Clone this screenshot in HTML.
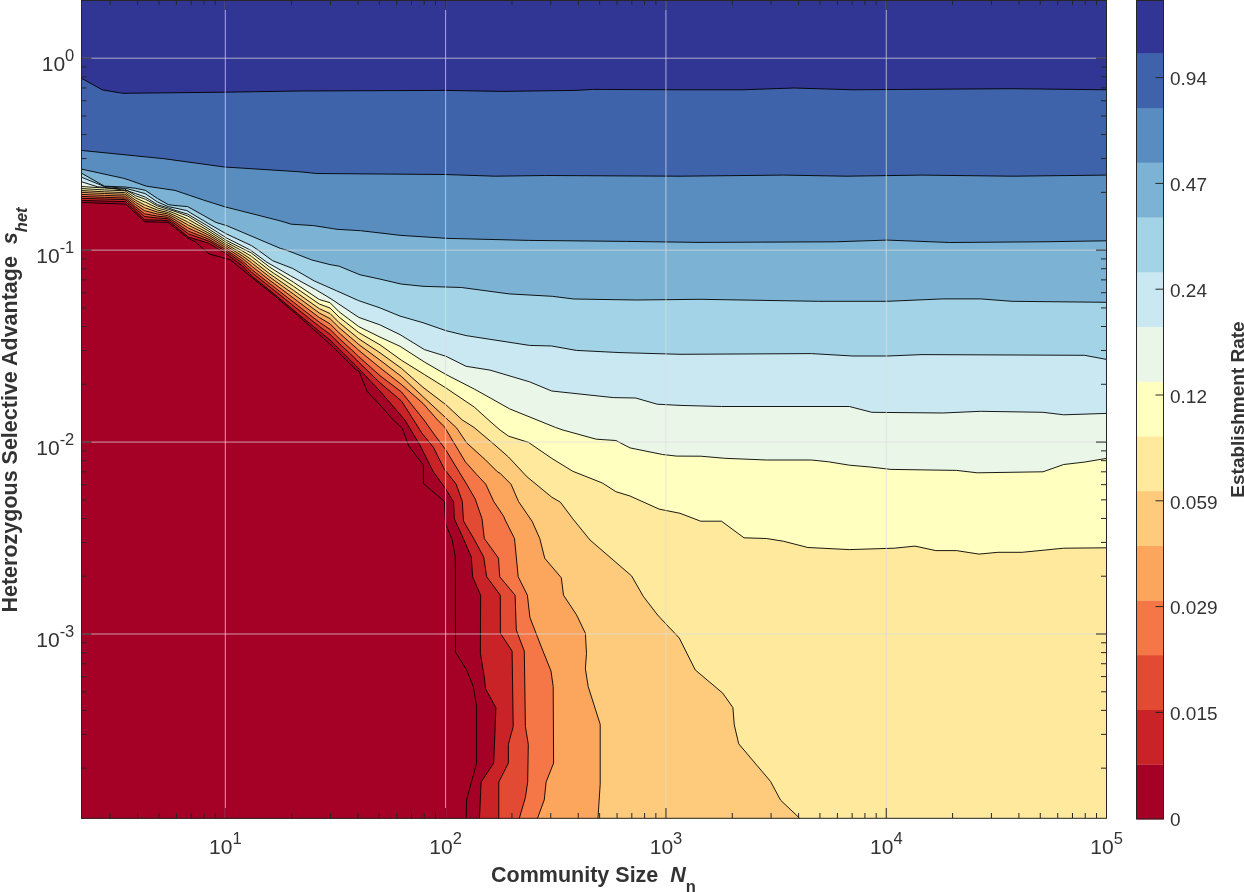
<!DOCTYPE html><html><head><meta charset="utf-8"><style>html,body{margin:0;padding:0;background:#fff;width:1244px;height:892px;overflow:hidden}svg{display:block}text{font-family:"Liberation Sans",sans-serif;fill:#333333}svg{will-change:transform}</style></head><body>
<svg width="1244" height="892" viewBox="0 0 1244 892">
<defs><clipPath id="pc"><rect x="81" y="0" width="1025.8" height="818.5"/></clipPath></defs>
<g clip-path="url(#pc)">
<rect x="81" y="0" width="1025" height="819" fill="#313695"/>
<path d="M81.0,78.0 L102.3,89.9 L122.5,93.3 L224.5,92.2 L300.0,91.0 L444.7,90.4 L501.8,91.4 L575.9,90.4 L592.7,89.4 L680.0,89.8 L742.0,89.8 L794.0,88.0 L852.8,89.8 L1011.8,88.7 L1107.0,89.8 L1110.0,89.8 L1110.0,822.0 L78.0,822.0 L78.0,78.0 Z" fill="#3f63ab"/>
<path d="M81.0,150.4 L164.0,158.7 L224.5,167.0 L300.0,171.8 L316.8,173.5 L444.7,174.5 L495.1,176.2 L545.6,175.5 L680.0,176.2 L783.7,175.1 L846.0,176.2 L922.0,175.1 L1011.8,176.2 L1107.0,175.1 L1110.0,175.1 L1110.0,822.0 L78.0,822.0 L78.0,150.4 Z" fill="#598dc0"/>
<path d="M81.0,169.0 L123.6,178.3 L129.0,180.0 L146.4,186.2 L175.0,190.4 L203.3,200.0 L224.8,206.8 L280.0,220.8 L291.2,224.2 L313.5,225.6 L337.0,229.3 L360.6,230.7 L400.9,235.4 L448.0,238.4 L528.8,240.4 L626.3,241.4 L700.0,242.4 L835.5,241.8 L887.4,240.1 L949.6,242.5 L1043.0,241.8 L1107.0,240.8 L1110.0,240.8 L1110.0,822.0 L78.0,822.0 L78.0,169.0 Z" fill="#7cb3d4"/>
<path d="M81.0,172.9 L104.4,186.2 L125.1,187.0 L135.7,188.3 L145.3,190.3 L157.5,198.5 L168.5,204.7 L175.0,205.5 L187.7,206.6 L215.9,222.4 L226.6,225.6 L280.4,248.4 L286.0,250.0 L311.9,260.0 L330.0,264.6 L339.1,266.2 L360.0,274.8 L380.0,279.1 L400.9,284.0 L423.0,286.3 L461.5,287.5 L509.2,293.9 L552.3,296.3 L573.8,299.0 L636.4,300.0 L700.0,299.3 L818.3,301.3 L887.4,301.3 L942.7,298.9 L980.7,298.9 L1011.8,301.3 L1107.0,302.3 L1110.0,302.3 L1110.0,822.0 L78.0,822.0 L78.0,172.9 Z" fill="#a3d3e6"/>
<path d="M81.0,177.0 L104.4,186.5 L126.2,188.4 L135.7,191.0 L145.3,193.7 L157.5,202.0 L168.5,206.7 L175.0,208.0 L186.8,210.6 L208.9,223.9 L226.6,234.0 L251.3,245.5 L258.0,250.0 L272.6,260.7 L292.8,268.5 L314.4,281.0 L336.6,290.8 L358.8,300.7 L380.0,307.9 L400.0,316.1 L423.0,322.7 L446.0,330.7 L466.1,335.6 L490.0,339.3 L529.5,345.4 L551.7,346.0 L576.3,350.4 L620.0,352.6 L680.0,354.3 L811.4,353.6 L852.8,356.0 L887.4,356.0 L922.0,354.6 L1084.4,355.3 L1107.0,359.5 L1110.0,359.5 L1110.0,822.0 L78.0,822.0 L78.0,177.0 Z" fill="#c9e8f2"/>
<path d="M81.0,181.6 L97.6,186.8 L104.4,187.4 L127.3,190.7 L135.7,193.7 L145.3,197.1 L157.5,204.7 L168.5,208.0 L175.0,210.3 L187.7,214.1 L207.1,225.6 L226.6,238.0 L250.2,250.0 L267.0,262.3 L290.5,275.8 L315.6,289.6 L330.0,298.2 L358.8,317.4 L379.8,324.8 L400.0,334.6 L424.4,349.6 L446.0,356.3 L466.1,366.3 L490.0,370.1 L529.5,381.8 L551.7,391.0 L613.3,397.6 L635.7,398.0 L657.2,404.2 L680.0,405.4 L721.5,406.5 L849.4,406.5 L871.8,412.3 L942.7,413.0 L980.7,411.3 L1043.0,412.3 L1063.7,414.8 L1107.0,413.4 L1110.0,413.4 L1110.0,822.0 L78.0,822.0 L78.0,181.6 Z" fill="#e9f6e8"/>
<path d="M81.0,186.5 L104.4,188.0 L124.7,189.0 L135.7,195.8 L145.3,199.2 L157.5,206.0 L168.5,209.4 L175.0,211.4 L187.7,216.0 L207.1,228.0 L226.6,240.5 L251.3,253.0 L270.0,267.4 L293.4,282.2 L319.3,299.5 L330.0,302.7 L339.1,311.8 L358.8,326.6 L380.0,337.1 L400.0,346.3 L424.4,362.0 L446.0,374.5 L474.2,389.0 L490.0,397.8 L509.7,408.9 L555.4,427.4 L562.9,430.0 L596.2,439.2 L615.9,440.5 L630.0,447.9 L662.6,454.5 L676.5,456.1 L700.7,456.2 L724.9,458.3 L766.4,460.0 L811.4,460.0 L828.6,461.8 L849.4,465.2 L870.1,467.0 L890.9,469.4 L956.5,470.4 L977.3,472.8 L1043.0,471.8 L1063.7,464.5 L1084.4,462.1 L1107.0,458.3 L1110.0,458.3 L1110.0,822.0 L78.0,822.0 L78.0,186.5 Z" fill="#ffffbf"/>
<path d="M81.0,188.5 L104.4,189.9 L124.7,190.8 L125.5,191.2 L135.7,198.0 L144.7,202.0 L145.3,202.1 L157.5,208.0 L167.2,210.6 L168.5,211.1 L170.0,211.6 L175.0,213.5 L187.7,218.9 L188.6,219.5 L207.1,230.1 L208.9,231.2 L226.6,242.4 L242.5,251.0 L251.3,256.2 L252.4,257.1 L270.0,270.7 L274.8,273.9 L293.4,286.2 L297.3,288.9 L319.3,304.0 L330.0,308.0 L339.1,317.1 L356.3,330.6 L358.8,332.6 L380.0,344.8 L401.5,360.3 L424.4,374.5 L446.0,388.0 L474.2,407.0 L490.0,421.3 L500.0,430.0 L508.6,436.2 L528.4,442.3 L551.8,458.4 L572.8,471.3 L602.4,483.0 L615.9,491.7 L630.0,496.0 L659.1,509.1 L680.0,513.3 L700.7,521.2 L721.5,521.2 L744.0,537.8 L766.4,538.5 L783.7,541.3 L807.9,547.5 L849.4,549.6 L894.3,548.2 L915.0,546.1 L935.8,550.6 L956.5,550.6 L979.0,554.1 L998.0,552.3 L1022.2,552.3 L1063.7,548.2 L1107.0,547.8 L1110.0,547.8 L1110.0,822.0 L78.0,822.0 L78.0,188.5 Z" fill="#fee99d"/>
<path d="M81.0,190.5 L104.4,191.8 L124.7,192.6 L125.5,193.0 L135.7,200.3 L144.7,205.0 L145.3,205.2 L157.5,210.1 L167.2,212.3 L168.5,212.8 L170.0,213.4 L175.0,215.7 L187.7,221.9 L188.6,222.5 L207.1,232.3 L208.9,233.3 L226.6,244.4 L242.5,253.6 L251.3,259.5 L252.4,260.4 L270.0,274.1 L274.8,277.4 L293.4,290.3 L297.3,293.1 L319.3,308.7 L330.0,313.5 L339.1,322.6 L356.3,336.7 L358.8,338.8 L380.0,352.8 L401.5,368.4 L423.0,387.3 L446.0,404.8 L462.3,420.0 L474.0,427.4 L493.7,444.0 L508.5,457.0 L527.1,476.9 L551.8,497.2 L560.4,502.2 L572.8,518.8 L590.0,540.0 L631.6,575.9 L643.2,596.2 L657.6,615.0 L679.3,638.1 L695.3,670.0 L722.7,693.1 L732.9,707.6 L734.3,725.0 L738.7,743.8 L770.5,781.4 L780.6,800.2 L799.4,818.0 L799.4,822.0 L78.0,822.0 L78.0,190.5 Z" fill="#fecb7c"/>
<path d="M81.0,192.4 L104.4,193.5 L124.7,194.3 L125.5,194.6 L135.7,202.4 L144.7,207.8 L145.3,208.0 L157.5,212.0 L167.2,213.8 L168.5,214.4 L170.0,215.1 L175.0,217.7 L187.7,224.7 L188.6,225.3 L207.1,234.3 L208.9,235.2 L226.6,246.2 L242.5,256.0 L251.3,262.5 L252.4,263.5 L270.0,277.3 L274.8,280.7 L293.4,294.0 L297.3,296.9 L319.3,313.0 L330.0,318.6 L339.1,327.6 L356.3,342.3 L358.8,344.5 L380.0,360.1 L401.5,376.5 L423.0,396.7 L448.1,420.0 L456.7,428.0 L466.6,442.8 L485.1,459.5 L497.4,471.8 L500.0,473.2 L511.1,484.3 L518.5,501.5 L532.1,521.3 L539.8,538.5 L544.7,558.2 L561.3,577.8 L563.5,595.2 L576.5,614.8 L585.4,633.3 L586.5,653.3 L585.4,668.8 L588.2,686.6 L600.2,724.3 L600.2,784.2 L598.0,818.0 L598.0,822.0 L78.0,822.0 L78.0,192.4 Z" fill="#fca55d"/>
<path d="M81.0,194.4 L104.4,195.4 L124.7,196.1 L125.5,196.4 L135.7,204.6 L144.7,210.8 L145.3,210.9 L157.5,214.0 L167.2,215.5 L168.5,216.1 L170.0,216.8 L175.0,219.8 L187.7,227.6 L188.6,228.2 L207.1,236.4 L208.9,237.2 L226.6,248.1 L242.5,258.4 L251.3,265.7 L252.4,266.7 L270.0,280.6 L274.8,284.1 L293.4,298.0 L297.3,301.0 L319.3,317.5 L330.0,323.8 L339.1,332.9 L356.3,348.1 L358.8,350.4 L380.0,367.7 L401.5,384.6 L423.0,403.4 L437.6,420.0 L444.4,426.8 L454.3,443.4 L465.4,461.9 L476.5,474.3 L485.7,484.1 L493.7,501.4 L503.6,516.2 L505.2,520.0 L514.5,538.5 L518.2,576.7 L527.4,595.2 L529.9,617.4 L542.1,648.9 L551.0,671.0 L553.2,686.6 L553.6,763.1 L546.1,782.0 L544.3,799.8 L537.6,818.0 L537.6,822.0 L78.0,822.0 L78.0,194.4 Z" fill="#f57647"/>
<path d="M81.0,196.4 L104.4,197.3 L124.7,198.0 L125.5,198.1 L135.7,206.9 L144.7,213.9 L145.3,213.9 L157.5,216.1 L167.2,217.2 L168.5,217.8 L170.0,218.6 L175.0,221.9 L187.7,230.6 L188.6,231.2 L207.1,238.5 L208.9,239.3 L226.6,250.1 L242.5,261.0 L251.3,269.0 L252.4,270.0 L270.0,284.0 L274.8,287.6 L293.4,302.1 L297.3,305.2 L319.3,322.2 L330.0,329.4 L339.1,338.4 L356.3,354.2 L358.8,356.7 L380.0,375.7 L401.5,392.0 L424.0,420.0 L434.5,434.8 L445.6,449.6 L456.1,466.9 L466.6,484.1 L475.2,498.9 L482.0,518.7 L484.3,538.5 L498.5,558.2 L499.7,576.7 L515.1,595.2 L516.3,630.0 L524.3,651.1 L525.4,726.5 L528.3,744.3 L527.7,782.0 L525.4,797.5 L519.4,818.0 L519.4,822.0 L78.0,822.0 L78.0,196.4 Z" fill="#e34a33"/>
<path d="M81.0,198.3 L104.4,199.0 L124.7,199.6 L125.5,199.7 L135.7,208.9 L144.7,216.6 L145.3,216.6 L157.5,218.0 L167.2,218.6 L168.5,219.4 L170.0,220.2 L175.0,223.9 L187.7,233.2 L188.6,233.9 L207.1,240.5 L208.9,241.1 L226.6,251.8 L242.5,263.3 L251.3,271.9 L252.4,273.0 L270.0,287.1 L274.8,290.8 L293.4,305.8 L297.3,308.9 L319.3,326.4 L330.0,334.3 L339.1,343.3 L356.3,359.6 L358.8,362.2 L380.0,382.8 L401.5,401.0 L413.6,420.0 L422.2,433.6 L433.3,447.1 L444.4,469.3 L456.1,484.1 L462.3,501.4 L463.5,521.1 L474.4,539.7 L483.7,557.0 L486.7,576.7 L500.3,595.2 L500.4,633.3 L512.1,651.1 L513.2,726.5 L508.4,744.3 L508.4,763.1 L498.8,782.0 L498.8,818.0 L498.8,822.0 L78.0,822.0 L78.0,198.3 Z" fill="#c92227"/>
<path d="M81.0,200.4 L125.5,201.6 L144.7,219.8 L167.2,220.4 L170.0,222.1 L188.6,237.1 L208.9,243.3 L226.6,253.9 L242.5,266.0 L252.4,276.5 L274.8,294.5 L297.3,313.3 L330.0,340.0 L356.3,366.0 L380.0,391.1 L404.9,420.0 L419.7,444.7 L433.3,471.8 L445.0,487.8 L453.6,502.0 L454.3,518.7 L463.3,538.5 L471.3,557.0 L472.6,576.7 L480.6,595.2 L480.4,653.3 L484.4,677.7 L485.5,688.8 L495.9,707.7 L493.7,763.1 L481.1,782.0 L479.5,818.0 L479.5,822.0 L78.0,822.0 L78.0,200.4 Z" fill="#a50026"/>
<path d="M78.0,202.5 L81.0,202.5 L125.7,204.1 L144.7,221.8 L167.2,222.3 L170.0,223.9 L187.7,238.0 L195.6,242.0 L208.9,253.9 L226.6,258.8 L230.0,259.5 L252.4,278.0 L274.8,296.0 L297.3,315.0 L330.0,344.2 L356.3,370.0 L359.0,371.2 L367.1,391.3 L380.0,405.0 L393.4,420.0 L402.5,428.6 L408.6,445.9 L423.4,465.0 L423.4,483.5 L444.4,501.4 L445.4,520.0 L446.0,524.9 L452.2,539.7 L455.3,557.0 L455.5,652.2 L466.6,669.9 L473.3,686.6 L476.6,706.6 L476.6,763.1 L466.6,799.8 L466.2,818.0 L466.2,822.0" fill="none" stroke="#000" stroke-width="0.9" stroke-linejoin="round"/>
<path d="M78.0,200.4 L81.0,200.4 L125.5,201.6 L144.7,219.8 L167.2,220.4 L170.0,222.1 L188.6,237.1 L208.9,243.3 L226.6,253.9 L242.5,266.0 L252.4,276.5 L274.8,294.5 L297.3,313.3 L330.0,340.0 L356.3,366.0 L380.0,391.1 L404.9,420.0 L419.7,444.7 L433.3,471.8 L445.0,487.8 L453.6,502.0 L454.3,518.7 L463.3,538.5 L471.3,557.0 L472.6,576.7 L480.6,595.2 L480.4,653.3 L484.4,677.7 L485.5,688.8 L495.9,707.7 L493.7,763.1 L481.1,782.0 L479.5,818.0 L479.5,822.0" fill="none" stroke="#000" stroke-width="0.9" stroke-linejoin="round"/>
<path d="M78.0,198.3 L81.0,198.3 L104.4,199.0 L124.7,199.6 L125.5,199.7 L135.7,208.9 L144.7,216.6 L145.3,216.6 L157.5,218.0 L167.2,218.6 L168.5,219.4 L170.0,220.2 L175.0,223.9 L187.7,233.2 L188.6,233.9 L207.1,240.5 L208.9,241.1 L226.6,251.8 L242.5,263.3 L251.3,271.9 L252.4,273.0 L270.0,287.1 L274.8,290.8 L293.4,305.8 L297.3,308.9 L319.3,326.4 L330.0,334.3 L339.1,343.3 L356.3,359.6 L358.8,362.2 L380.0,382.8 L401.5,401.0 L413.6,420.0 L422.2,433.6 L433.3,447.1 L444.4,469.3 L456.1,484.1 L462.3,501.4 L463.5,521.1 L474.4,539.7 L483.7,557.0 L486.7,576.7 L500.3,595.2 L500.4,633.3 L512.1,651.1 L513.2,726.5 L508.4,744.3 L508.4,763.1 L498.8,782.0 L498.8,818.0 L498.8,822.0" fill="none" stroke="#000" stroke-width="0.9" stroke-linejoin="round"/>
<path d="M78.0,196.4 L81.0,196.4 L104.4,197.3 L124.7,198.0 L125.5,198.1 L135.7,206.9 L144.7,213.9 L145.3,213.9 L157.5,216.1 L167.2,217.2 L168.5,217.8 L170.0,218.6 L175.0,221.9 L187.7,230.6 L188.6,231.2 L207.1,238.5 L208.9,239.3 L226.6,250.1 L242.5,261.0 L251.3,269.0 L252.4,270.0 L270.0,284.0 L274.8,287.6 L293.4,302.1 L297.3,305.2 L319.3,322.2 L330.0,329.4 L339.1,338.4 L356.3,354.2 L358.8,356.7 L380.0,375.7 L401.5,392.0 L424.0,420.0 L434.5,434.8 L445.6,449.6 L456.1,466.9 L466.6,484.1 L475.2,498.9 L482.0,518.7 L484.3,538.5 L498.5,558.2 L499.7,576.7 L515.1,595.2 L516.3,630.0 L524.3,651.1 L525.4,726.5 L528.3,744.3 L527.7,782.0 L525.4,797.5 L519.4,818.0 L519.4,822.0" fill="none" stroke="#000" stroke-width="0.9" stroke-linejoin="round"/>
<path d="M78.0,194.4 L81.0,194.4 L104.4,195.4 L124.7,196.1 L125.5,196.4 L135.7,204.6 L144.7,210.8 L145.3,210.9 L157.5,214.0 L167.2,215.5 L168.5,216.1 L170.0,216.8 L175.0,219.8 L187.7,227.6 L188.6,228.2 L207.1,236.4 L208.9,237.2 L226.6,248.1 L242.5,258.4 L251.3,265.7 L252.4,266.7 L270.0,280.6 L274.8,284.1 L293.4,298.0 L297.3,301.0 L319.3,317.5 L330.0,323.8 L339.1,332.9 L356.3,348.1 L358.8,350.4 L380.0,367.7 L401.5,384.6 L423.0,403.4 L437.6,420.0 L444.4,426.8 L454.3,443.4 L465.4,461.9 L476.5,474.3 L485.7,484.1 L493.7,501.4 L503.6,516.2 L505.2,520.0 L514.5,538.5 L518.2,576.7 L527.4,595.2 L529.9,617.4 L542.1,648.9 L551.0,671.0 L553.2,686.6 L553.6,763.1 L546.1,782.0 L544.3,799.8 L537.6,818.0 L537.6,822.0" fill="none" stroke="#000" stroke-width="0.9" stroke-linejoin="round"/>
<path d="M78.0,192.4 L81.0,192.4 L104.4,193.5 L124.7,194.3 L125.5,194.6 L135.7,202.4 L144.7,207.8 L145.3,208.0 L157.5,212.0 L167.2,213.8 L168.5,214.4 L170.0,215.1 L175.0,217.7 L187.7,224.7 L188.6,225.3 L207.1,234.3 L208.9,235.2 L226.6,246.2 L242.5,256.0 L251.3,262.5 L252.4,263.5 L270.0,277.3 L274.8,280.7 L293.4,294.0 L297.3,296.9 L319.3,313.0 L330.0,318.6 L339.1,327.6 L356.3,342.3 L358.8,344.5 L380.0,360.1 L401.5,376.5 L423.0,396.7 L448.1,420.0 L456.7,428.0 L466.6,442.8 L485.1,459.5 L497.4,471.8 L500.0,473.2 L511.1,484.3 L518.5,501.5 L532.1,521.3 L539.8,538.5 L544.7,558.2 L561.3,577.8 L563.5,595.2 L576.5,614.8 L585.4,633.3 L586.5,653.3 L585.4,668.8 L588.2,686.6 L600.2,724.3 L600.2,784.2 L598.0,818.0 L598.0,822.0" fill="none" stroke="#000" stroke-width="0.9" stroke-linejoin="round"/>
<path d="M78.0,190.5 L81.0,190.5 L104.4,191.8 L124.7,192.6 L125.5,193.0 L135.7,200.3 L144.7,205.0 L145.3,205.2 L157.5,210.1 L167.2,212.3 L168.5,212.8 L170.0,213.4 L175.0,215.7 L187.7,221.9 L188.6,222.5 L207.1,232.3 L208.9,233.3 L226.6,244.4 L242.5,253.6 L251.3,259.5 L252.4,260.4 L270.0,274.1 L274.8,277.4 L293.4,290.3 L297.3,293.1 L319.3,308.7 L330.0,313.5 L339.1,322.6 L356.3,336.7 L358.8,338.8 L380.0,352.8 L401.5,368.4 L423.0,387.3 L446.0,404.8 L462.3,420.0 L474.0,427.4 L493.7,444.0 L508.5,457.0 L527.1,476.9 L551.8,497.2 L560.4,502.2 L572.8,518.8 L590.0,540.0 L631.6,575.9 L643.2,596.2 L657.6,615.0 L679.3,638.1 L695.3,670.0 L722.7,693.1 L732.9,707.6 L734.3,725.0 L738.7,743.8 L770.5,781.4 L780.6,800.2 L799.4,818.0 L799.4,822.0" fill="none" stroke="#000" stroke-width="0.9" stroke-linejoin="round"/>
<path d="M78.0,188.5 L81.0,188.5 L104.4,189.9 L124.7,190.8 L125.5,191.2 L135.7,198.0 L144.7,202.0 L145.3,202.1 L157.5,208.0 L167.2,210.6 L168.5,211.1 L170.0,211.6 L175.0,213.5 L187.7,218.9 L188.6,219.5 L207.1,230.1 L208.9,231.2 L226.6,242.4 L242.5,251.0 L251.3,256.2 L252.4,257.1 L270.0,270.7 L274.8,273.9 L293.4,286.2 L297.3,288.9 L319.3,304.0 L330.0,308.0 L339.1,317.1 L356.3,330.6 L358.8,332.6 L380.0,344.8 L401.5,360.3 L424.4,374.5 L446.0,388.0 L474.2,407.0 L490.0,421.3 L500.0,430.0 L508.6,436.2 L528.4,442.3 L551.8,458.4 L572.8,471.3 L602.4,483.0 L615.9,491.7 L630.0,496.0 L659.1,509.1 L680.0,513.3 L700.7,521.2 L721.5,521.2 L744.0,537.8 L766.4,538.5 L783.7,541.3 L807.9,547.5 L849.4,549.6 L894.3,548.2 L915.0,546.1 L935.8,550.6 L956.5,550.6 L979.0,554.1 L998.0,552.3 L1022.2,552.3 L1063.7,548.2 L1107.0,547.8 L1110.0,547.8" fill="none" stroke="#000" stroke-width="0.9" stroke-linejoin="round"/>
<path d="M78.0,186.5 L81.0,186.5 L104.4,188.0 L124.7,189.0 L135.7,195.8 L145.3,199.2 L157.5,206.0 L168.5,209.4 L175.0,211.4 L187.7,216.0 L207.1,228.0 L226.6,240.5 L251.3,253.0 L270.0,267.4 L293.4,282.2 L319.3,299.5 L330.0,302.7 L339.1,311.8 L358.8,326.6 L380.0,337.1 L400.0,346.3 L424.4,362.0 L446.0,374.5 L474.2,389.0 L490.0,397.8 L509.7,408.9 L555.4,427.4 L562.9,430.0 L596.2,439.2 L615.9,440.5 L630.0,447.9 L662.6,454.5 L676.5,456.1 L700.7,456.2 L724.9,458.3 L766.4,460.0 L811.4,460.0 L828.6,461.8 L849.4,465.2 L870.1,467.0 L890.9,469.4 L956.5,470.4 L977.3,472.8 L1043.0,471.8 L1063.7,464.5 L1084.4,462.1 L1107.0,458.3 L1110.0,458.3" fill="none" stroke="#000" stroke-width="0.9" stroke-linejoin="round"/>
<path d="M78.0,181.6 L81.0,181.6 L97.6,186.8 L104.4,187.4 L127.3,190.7 L135.7,193.7 L145.3,197.1 L157.5,204.7 L168.5,208.0 L175.0,210.3 L187.7,214.1 L207.1,225.6 L226.6,238.0 L250.2,250.0 L267.0,262.3 L290.5,275.8 L315.6,289.6 L330.0,298.2 L358.8,317.4 L379.8,324.8 L400.0,334.6 L424.4,349.6 L446.0,356.3 L466.1,366.3 L490.0,370.1 L529.5,381.8 L551.7,391.0 L613.3,397.6 L635.7,398.0 L657.2,404.2 L680.0,405.4 L721.5,406.5 L849.4,406.5 L871.8,412.3 L942.7,413.0 L980.7,411.3 L1043.0,412.3 L1063.7,414.8 L1107.0,413.4 L1110.0,413.4" fill="none" stroke="#000" stroke-width="0.9" stroke-linejoin="round"/>
<path d="M78.0,177.0 L81.0,177.0 L104.4,186.5 L126.2,188.4 L135.7,191.0 L145.3,193.7 L157.5,202.0 L168.5,206.7 L175.0,208.0 L186.8,210.6 L208.9,223.9 L226.6,234.0 L251.3,245.5 L258.0,250.0 L272.6,260.7 L292.8,268.5 L314.4,281.0 L336.6,290.8 L358.8,300.7 L380.0,307.9 L400.0,316.1 L423.0,322.7 L446.0,330.7 L466.1,335.6 L490.0,339.3 L529.5,345.4 L551.7,346.0 L576.3,350.4 L620.0,352.6 L680.0,354.3 L811.4,353.6 L852.8,356.0 L887.4,356.0 L922.0,354.6 L1084.4,355.3 L1107.0,359.5 L1110.0,359.5" fill="none" stroke="#000" stroke-width="0.9" stroke-linejoin="round"/>
<path d="M78.0,172.9 L81.0,172.9 L104.4,186.2 L125.1,187.0 L135.7,188.3 L145.3,190.3 L157.5,198.5 L168.5,204.7 L175.0,205.5 L187.7,206.6 L215.9,222.4 L226.6,225.6 L280.4,248.4 L286.0,250.0 L311.9,260.0 L330.0,264.6 L339.1,266.2 L360.0,274.8 L380.0,279.1 L400.9,284.0 L423.0,286.3 L461.5,287.5 L509.2,293.9 L552.3,296.3 L573.8,299.0 L636.4,300.0 L700.0,299.3 L818.3,301.3 L887.4,301.3 L942.7,298.9 L980.7,298.9 L1011.8,301.3 L1107.0,302.3 L1110.0,302.3" fill="none" stroke="#000" stroke-width="0.9" stroke-linejoin="round"/>
<path d="M78.0,169.0 L81.0,169.0 L123.6,178.3 L129.0,180.0 L146.4,186.2 L175.0,190.4 L203.3,200.0 L224.8,206.8 L280.0,220.8 L291.2,224.2 L313.5,225.6 L337.0,229.3 L360.6,230.7 L400.9,235.4 L448.0,238.4 L528.8,240.4 L626.3,241.4 L700.0,242.4 L835.5,241.8 L887.4,240.1 L949.6,242.5 L1043.0,241.8 L1107.0,240.8 L1110.0,240.8" fill="none" stroke="#000" stroke-width="0.9" stroke-linejoin="round"/>
<path d="M78.0,150.4 L81.0,150.4 L164.0,158.7 L224.5,167.0 L300.0,171.8 L316.8,173.5 L444.7,174.5 L495.1,176.2 L545.6,175.5 L680.0,176.2 L783.7,175.1 L846.0,176.2 L922.0,175.1 L1011.8,176.2 L1107.0,175.1 L1110.0,175.1" fill="none" stroke="#000" stroke-width="0.9" stroke-linejoin="round"/>
<path d="M78.0,78.0 L81.0,78.0 L102.3,89.9 L122.5,93.3 L224.5,92.2 L300.0,91.0 L444.7,90.4 L501.8,91.4 L575.9,90.4 L592.7,89.4 L680.0,89.8 L742.0,89.8 L794.0,88.0 L852.8,89.8 L1011.8,88.7 L1107.0,89.8 L1110.0,89.8" fill="none" stroke="#000" stroke-width="0.9" stroke-linejoin="round"/>
</g>
<path d="M225.30,0 V818 M445.62,0 V818 M665.95,0 V818 M886.27,0 V818 M81,58.20 H1106 M81,250.13 H1106 M81,442.07 H1106 M81,634.00 H1106" stroke="#dddddd" stroke-opacity="0.72" stroke-width="1" fill="none"/>
<path d="M110.10,818 v-5 M110.10,0 v5 M137.62,818 v-5 M137.62,0 v5 M158.98,818 v-5 M158.98,0 v5 M176.42,818 v-5 M176.42,0 v5 M191.17,818 v-5 M191.17,0 v5 M203.95,818 v-5 M203.95,0 v5 M215.22,818 v-5 M215.22,0 v5 M225.30,818 v-10 M225.30,0 v10 M291.62,818 v-5 M291.62,0 v5 M330.42,818 v-5 M330.42,0 v5 M357.95,818 v-5 M357.95,0 v5 M379.30,818 v-5 M379.30,0 v5 M396.75,818 v-5 M396.75,0 v5 M411.50,818 v-5 M411.50,0 v5 M424.27,818 v-5 M424.27,0 v5 M435.54,818 v-5 M435.54,0 v5 M445.62,818 v-10 M445.62,0 v10 M511.95,818 v-5 M511.95,0 v5 M550.75,818 v-5 M550.75,0 v5 M578.27,818 v-5 M578.27,0 v5 M599.63,818 v-5 M599.63,0 v5 M617.07,818 v-5 M617.07,0 v5 M631.82,818 v-5 M631.82,0 v5 M644.60,818 v-5 M644.60,0 v5 M655.87,818 v-5 M655.87,0 v5 M665.95,818 v-10 M665.95,0 v10 M732.27,818 v-5 M732.27,0 v5 M771.07,818 v-5 M771.07,0 v5 M798.60,818 v-5 M798.60,0 v5 M819.95,818 v-5 M819.95,0 v5 M837.40,818 v-5 M837.40,0 v5 M852.15,818 v-5 M852.15,0 v5 M864.92,818 v-5 M864.92,0 v5 M876.19,818 v-5 M876.19,0 v5 M886.27,818 v-10 M886.27,0 v10 M952.60,818 v-5 M952.60,0 v5 M991.40,818 v-5 M991.40,0 v5 M1018.92,818 v-5 M1018.92,0 v5 M1040.28,818 v-5 M1040.28,0 v5 M1057.72,818 v-5 M1057.72,0 v5 M1072.47,818 v-5 M1072.47,0 v5 M1085.25,818 v-5 M1085.25,0 v5 M1096.52,818 v-5 M1096.52,0 v5 M81.5,768.16 h5 M1106,768.16 h-5 M81.5,734.36 h5 M1106,734.36 h-5 M81.5,710.38 h5 M1106,710.38 h-5 M81.5,691.78 h5 M1106,691.78 h-5 M81.5,676.58 h5 M1106,676.58 h-5 M81.5,663.73 h5 M1106,663.73 h-5 M81.5,652.60 h5 M1106,652.60 h-5 M81.5,642.78 h5 M1106,642.78 h-5 M81.5,634.00 h10 M1106,634.00 h-10 M81.5,576.22 h5 M1106,576.22 h-5 M81.5,542.42 h5 M1106,542.42 h-5 M81.5,518.44 h5 M1106,518.44 h-5 M81.5,499.84 h5 M1106,499.84 h-5 M81.5,484.65 h5 M1106,484.65 h-5 M81.5,471.80 h5 M1106,471.80 h-5 M81.5,460.67 h5 M1106,460.67 h-5 M81.5,450.85 h5 M1106,450.85 h-5 M81.5,442.07 h10 M1106,442.07 h-10 M81.5,384.29 h5 M1106,384.29 h-5 M81.5,350.49 h5 M1106,350.49 h-5 M81.5,326.51 h5 M1106,326.51 h-5 M81.5,307.91 h5 M1106,307.91 h-5 M81.5,292.71 h5 M1106,292.71 h-5 M81.5,279.86 h5 M1106,279.86 h-5 M81.5,268.73 h5 M1106,268.73 h-5 M81.5,258.92 h5 M1106,258.92 h-5 M81.5,250.13 h10 M1106,250.13 h-10 M81.5,192.36 h5 M1106,192.36 h-5 M81.5,158.56 h5 M1106,158.56 h-5 M81.5,134.58 h5 M1106,134.58 h-5 M81.5,115.98 h5 M1106,115.98 h-5 M81.5,100.78 h5 M1106,100.78 h-5 M81.5,87.93 h5 M1106,87.93 h-5 M81.5,76.80 h5 M1106,76.80 h-5 M81.5,66.98 h5 M1106,66.98 h-5 M81.5,58.20 h10 M1106,58.20 h-10" stroke="#262626" stroke-width="1" fill="none"/>
<rect x="81.5" y="0.5" width="1025" height="817.8" fill="none" stroke="#262626" stroke-width="1"/>
<text x="225.3" y="854" font-size="21" text-anchor="middle">10<tspan font-size="16.5" dy="-10">1</tspan></text>
<text x="445.6" y="854" font-size="21" text-anchor="middle">10<tspan font-size="16.5" dy="-10">2</tspan></text>
<text x="666.0" y="854" font-size="21" text-anchor="middle">10<tspan font-size="16.5" dy="-10">3</tspan></text>
<text x="886.3" y="854" font-size="21" text-anchor="middle">10<tspan font-size="16.5" dy="-10">4</tspan></text>
<text x="1106.6" y="854" font-size="21" text-anchor="middle">10<tspan font-size="16.5" dy="-10">5</tspan></text>
<text x="74.3" y="70.7" font-size="21" text-anchor="end">10<tspan font-size="16.5" dy="-10">0</tspan></text>
<text x="74.3" y="262.6" font-size="21" text-anchor="end">10<tspan font-size="16.5" dy="-10">-1</tspan></text>
<text x="74.3" y="454.6" font-size="21" text-anchor="end">10<tspan font-size="16.5" dy="-10">-2</tspan></text>
<text x="74.3" y="646.5" font-size="21" text-anchor="end">10<tspan font-size="16.5" dy="-10">-3</tspan></text>
<text x="593.5" y="882" font-size="21.5" font-weight="bold" text-anchor="middle">Community Size&#160;&#160;<tspan font-style="italic">N</tspan><tspan dy="9.5" font-size="16.5">n</tspan></text>
<text transform="translate(16.6,410) rotate(-90)" x="0" y="0" font-size="21.5" font-weight="bold" text-anchor="middle">Heterozygous Selective Advantage&#160;&#160;<tspan font-style="italic">s</tspan><tspan dy="10" font-size="16.5" font-style="italic">het</tspan></text>
<rect x="1136.5" y="764.46" width="27.0" height="55.02" fill="#a50026"/>
<rect x="1136.5" y="709.74" width="27.0" height="55.02" fill="#c92227"/>
<rect x="1136.5" y="655.02" width="27.0" height="55.02" fill="#e34a33"/>
<rect x="1136.5" y="600.30" width="27.0" height="55.02" fill="#f57647"/>
<rect x="1136.5" y="545.58" width="27.0" height="55.02" fill="#fca55d"/>
<rect x="1136.5" y="490.86" width="27.0" height="55.02" fill="#fecb7c"/>
<rect x="1136.5" y="436.14" width="27.0" height="55.02" fill="#fee99d"/>
<rect x="1136.5" y="381.42" width="27.0" height="55.02" fill="#ffffbf"/>
<rect x="1136.5" y="326.70" width="27.0" height="55.02" fill="#e9f6e8"/>
<rect x="1136.5" y="271.98" width="27.0" height="55.02" fill="#c9e8f2"/>
<rect x="1136.5" y="217.26" width="27.0" height="55.02" fill="#a3d3e6"/>
<rect x="1136.5" y="162.54" width="27.0" height="55.02" fill="#7cb3d4"/>
<rect x="1136.5" y="107.82" width="27.0" height="55.02" fill="#598dc0"/>
<rect x="1136.5" y="53.10" width="27.0" height="55.02" fill="#3f63ab"/>
<rect x="1136.5" y="0.00" width="27.0" height="53.40" fill="#313695"/>
<rect x="1136.5" y="0.5" width="27.0" height="818.4" fill="none" stroke="#262626" stroke-width="1"/>
<text x="1170" y="826.0" font-size="19">0</text>
<text x="1170" y="720.2" font-size="19">0.015</text>
<text x="1170" y="614.4" font-size="19">0.029</text>
<text x="1170" y="508.6" font-size="19">0.059</text>
<text x="1170" y="402.8" font-size="19">0.12</text>
<text x="1170" y="297.0" font-size="19">0.24</text>
<text x="1170" y="191.2" font-size="19">0.47</text>
<text x="1170" y="85.4" font-size="19">0.94</text>
<path d="M1163.5,712.40 h-8 M1163.5,606.60 h-8 M1163.5,500.80 h-8 M1163.5,395.00 h-8 M1163.5,289.20 h-8 M1163.5,183.40 h-8 M1163.5,77.60 h-8" stroke="#262626" stroke-width="1" fill="none"/>
<text transform="translate(1243.5,409.5) rotate(-90)" font-size="19" font-weight="bold" text-anchor="middle">Establishment Rate</text>
</svg></body></html>
